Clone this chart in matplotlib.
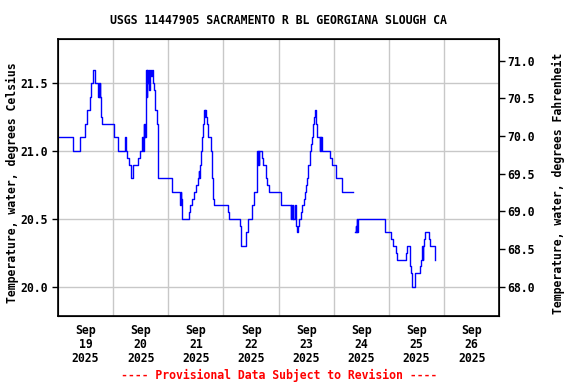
import matplotlib
matplotlib.use("Agg")
import matplotlib.pyplot as plt
from datetime import datetime, timedelta
import numpy as np

title = "USGS 11447905 SACRAMENTO R BL GEORGIANA SLOUGH CA"
footer = "---- Provisional Data Subject to Revision ----"
ylabel_left = "Temperature, water, degrees Celsius"
ylabel_right = "Temperature, water, degrees Fahrenheit"

# hours since 2025-09-19 00:00 at which the (step) value changes
hours = [0.00, 6.53, 9.58, 11.62, 12.76, 14.06, 14.50, 15.11, 16.24, 17.55,
         17.76, 17.98, 18.20, 18.37, 18.59, 19.03, 24.25, 26.12, 29.30, 29.74,
         29.91, 30.69, 31.56, 32.43, 34.92, 35.70, 36.70, 37.00, 37.22, 37.44,
         37.66, 37.88, 38.31, 38.62, 38.88, 39.18, 39.49, 39.75, 40.05, 40.49,
         40.92, 41.14, 41.93, 42.23, 42.97, 43.41, 43.67, 49.50, 49.76, 53.11,
         53.42, 53.68, 54.12, 57.16, 57.60, 58.47, 59.34, 60.08, 60.82, 61.17,
         61.52, 61.69, 62.26, 62.82, 63.26, 63.69, 63.91, 64.13, 64.30, 64.87,
         65.44, 66.61, 66.92, 67.35, 67.92, 73.88, 74.45, 79.24, 79.67, 81.85,
         82.59, 84.46, 85.46, 86.77, 86.85, 87.07, 87.29, 87.51, 88.95, 89.38,
         90.43, 91.12, 91.86, 96.96, 101.31, 101.57, 101.88, 102.31, 102.44, 103.18,
         103.62, 103.92, 104.62, 105.05, 105.80, 106.36, 106.97, 107.54, 108.10, 108.54,
         108.97, 109.50, 110.02, 110.45, 110.89, 111.45, 111.89, 112.11, 112.33, 112.46,
         112.89, 113.85, 114.07, 114.29, 114.50, 114.81, 118.55, 119.07, 121.03, 123.43,
         128.30, 129.30, 129.61, 129.87, 130.09, 130.30, 130.52, 131.48, 142.06, 144.98,
         145.55, 147.16, 147.46, 151.51, 151.82, 152.95, 153.38, 153.82, 155.12, 157.30,
         157.91, 158.48, 158.69, 158.91, 159.22, 159.48, 161.52, 161.96, 163.83, 164.13]

temps_c = [21.1, 21.0, 21.1, 21.2, 21.3, 21.4, 21.5, 21.6, 21.5, 21.4,
           21.5, 21.4, 21.5, 21.4, 21.25, 21.2, 21.1, 21.0, 21.1, 21.0,
           20.95, 20.9, 20.8, 20.9, 20.95, 21.0, 21.1, 21.0, 21.2, 21.1,
           21.2, 21.1, 21.6, 21.4, 21.6, 21.5, 21.6, 21.45, 21.6, 21.55,
           21.6, 21.5, 21.45, 21.3, 21.2, 20.9, 20.8, 20.75, 20.7, 20.6,
           20.7, 20.65, 20.5, 20.55, 20.6, 20.65, 20.7, 20.75, 20.8, 20.85,
           20.8, 20.9, 21.0, 21.1, 21.2, 21.3, 21.25, 21.3, 21.25, 21.2,
           21.1, 21.0, 20.8, 20.65, 20.6, 20.55, 20.5, 20.45, 20.3, 20.4,
           20.5, 20.6, 20.7, 21.0, 20.9, 21.0, 20.9, 21.0, 20.95, 20.9,
           20.8, 20.75, 20.7, 20.6, 20.5, 20.6, 20.5, 20.6, 20.5, 20.6,
           20.45, 20.4, 20.45, 20.5, 20.55, 20.6, 20.65, 20.7, 20.75, 20.8,
           20.9, 21.0, 21.05, 21.1, 21.2, 21.25, 21.3, 21.25, 21.3, 21.2,
           21.1, 21.0, 21.1, 21.0, 21.1, 21.0, 20.95, 20.9, 20.8, 20.7,
           np.nan, 20.4, 20.45, 20.4, 20.5, 20.4, 20.5, 20.5, 20.4, 20.35,
           20.3, 20.25, 20.2, 20.25, 20.3, 20.15, 20.1, 20.0, 20.1, 20.15,
           20.2, 20.3, 20.2, 20.3, 20.35, 20.4, 20.35, 20.3, 20.2, 20.2]

day_labels = ["Sep\n19\n2025", "Sep\n20\n2025", "Sep\n21\n2025", "Sep\n22\n2025",
              "Sep\n23\n2025", "Sep\n24\n2025", "Sep\n25\n2025", "Sep\n26\n2025"]
c_ticks = [20.0, 20.5, 21.0, 21.5]
f_ticks = [68.0, 68.5, 69.0, 69.5, 70.0, 70.5, 71.0]

FONT = "DejaVu Sans Mono"
fs = 8.3

t0 = datetime(2025, 9, 19)
times = [t0 + timedelta(hours=h) for h in hours]

fig = plt.figure(figsize=(5.76, 3.84), dpi=100)
L, R, T, B = 58, 499.3, 39.3, 315.7
W = R - L
ax = fig.add_axes([L / 576, 1 - B / 384, W / 576, (B - T) / 384])

ax.plot(times, temps_c, drawstyle="steps-post", color="#0000ff", lw=1.0, zorder=3)

ax.set_xlim(t0, t0 + timedelta(days=8))
ylo, yhi = 19.786, 21.824
ax.set_ylim(ylo, yhi)

ax.set_xticks([t0 + timedelta(days=d) for d in range(1, 8)])
ax.set_xticklabels([])
ax.set_xticks([t0 + timedelta(days=d, hours=12) for d in range(8)], minor=True)
ax.set_xticklabels(day_labels, minor=True, fontfamily=FONT, fontweight="bold",
                   fontsize=fs, linespacing=1.1)
ax.tick_params(axis="x", which="both", length=0, pad=6)

ax.set_yticks(c_ticks)
ax.set_yticklabels([f"{v:.1f}" for v in c_ticks], fontfamily=FONT,
                   fontweight="bold", fontsize=fs)
ax.tick_params(axis="y", length=4, width=1, pad=3)

ax.grid(True, which="major", color="#c8c8c8", lw=1, zorder=0)
for s in ax.spines.values():
    s.set_linewidth(1.2)

ax.set_ylabel(ylabel_left, fontfamily=FONT, fontweight="bold", fontsize=fs)
ax.yaxis.set_label_coords((19 - L) / W, 0.48)

ax2 = ax.twinx()
ax2.set_ylim(ylo * 1.8 + 32, yhi * 1.8 + 32)
ax2.set_yticks(f_ticks)
ax2.set_yticklabels([f"{v:.1f}" for v in f_ticks], fontfamily=FONT,
                    fontweight="bold", fontsize=fs)
ax2.tick_params(axis="y", length=4, width=1, pad=2)
ax2.set_ylabel(ylabel_right, fontfamily=FONT, fontweight="bold", fontsize=fs)
ax2.yaxis.set_label_coords((552 - L) / W, 0.48)

fig.text((L + R) / 2 / 576, 1 - 20 / 384, title, ha="center", va="center",
         fontfamily=FONT, fontweight="bold", fontsize=fs)
fig.text((L + R) / 2 / 576, 1 - 375 / 384, footer, ha="center", va="center",
         fontfamily=FONT, fontweight="bold", fontsize=fs, color="#ff0000")

fig.savefig("out.png", dpi=100)
